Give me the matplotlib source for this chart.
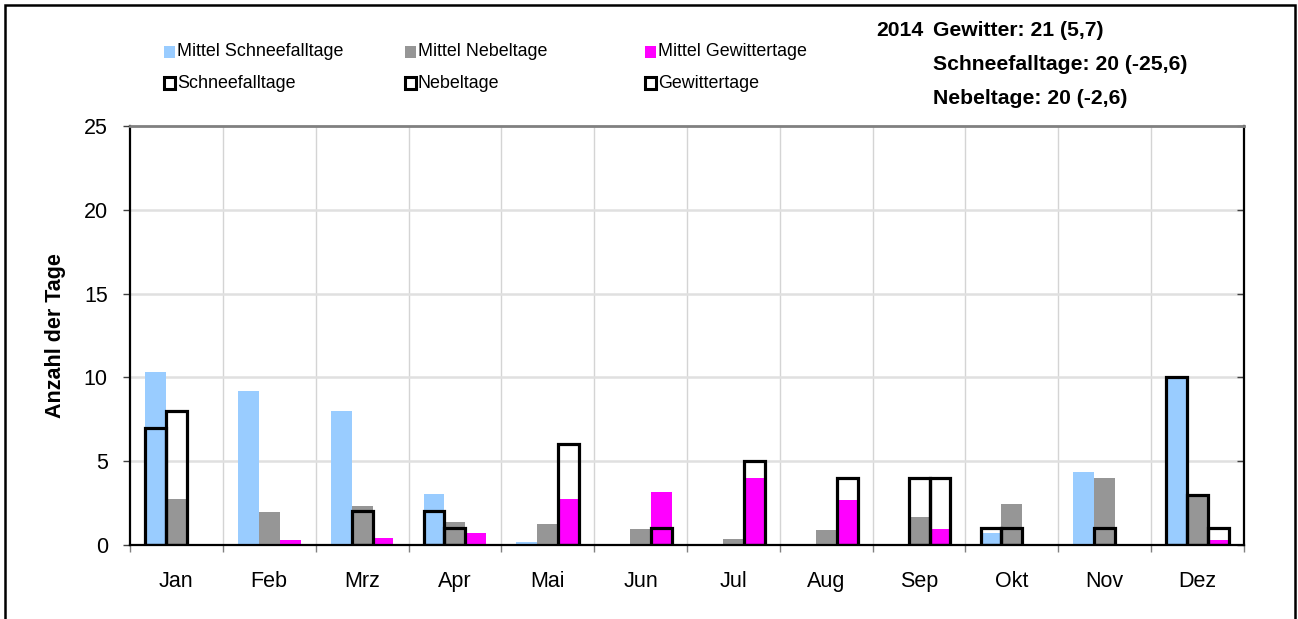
import numpy as np
import matplotlib
matplotlib.use("Agg")
import matplotlib.pyplot as plt
from matplotlib.patches import Rectangle

plt.rcParams['font.family'] = ['Liberation Sans', 'DejaVu Sans']

months = ['Jan', 'Feb', 'Mrz', 'Apr', 'Mai', 'Jun', 'Jul', 'Aug', 'Sep', 'Okt', 'Nov', 'Dez']

# long-term means
mittel_schnee = [10.3, 9.2, 8.0, 3.05, 0.15, 0, 0, 0, 0, 0.7, 4.35, 10.0]
mittel_nebel = [2.75, 1.95, 2.3, 1.35, 1.25, 0.95, 0.35, 0.9, 1.65, 2.45, 4.0, 3.0]
mittel_gewitter = [0, 0.3, 0.4, 0.7, 2.75, 3.15, 4.0, 2.7, 0.95, 0.05, 0, 0.3]

# 2014
schnee = [7, 0, 0, 2, 0, 0, 0, 0, 0, 1, 0, 10]
nebel = [8, 0, 2, 1, 0, 0, 0, 0, 4, 1, 1, 3]
gewitter = [0, 0, 0, 0, 6, 1, 5, 4, 4, 0, 0, 1]

summary = ['Gewitter: 21 (5,7)', 'Schneefalltage: 20 (-25,6)', 'Nebeltage: 20 (-2,6)']

c_blue = '#99ccff'
c_gray = '#969696'
c_mag = '#ff00ff'

W, H = 1298, 619
fig = plt.figure(figsize=(W / 100, H / 100), dpi=100)
ax = fig.add_axes([130 / W, 1 - 545 / H, 1114 / W, 419 / H])

def fx(x):
    return x / W

def fy(y):
    return 1 - y / H

x = np.arange(len(months))
w = 0.225

ax.bar(x - w, mittel_schnee, w, color=c_blue, zorder=2)
ax.bar(x, mittel_nebel, w, color=c_gray, zorder=2)
ax.bar(x + w, mittel_gewitter, w, color=c_mag, zorder=2)

for off, vals in [(-w, schnee), (0, nebel), (w, gewitter)]:
    vals = np.array(vals)
    m = vals > 0
    ax.bar(x[m] + off, vals[m], w, facecolor='none', edgecolor='black',
           linewidth=2.3, zorder=3)

ax.set_xlim(-0.5, 11.5)
ax.set_ylim(0, 25)
ax.set_yticks(np.arange(0, 26, 5))
ax.set_xticks(x)
ax.set_xticklabels(months, fontsize=15.5)
ax.set_xticks(np.arange(-0.5, 12, 1), minor=True)
ax.tick_params(axis='x', which='major', length=0, pad=19)
ax.tick_params(axis='x', which='minor', length=5, width=1, color='#808080')
ax.tick_params(axis='y', which='major', length=5, width=1, labelsize=15.5, pad=11,
               right=True, color='#404040', direction='out')
for t in ax.yaxis.get_major_ticks():
    t.tick2line.set_marker(matplotlib.lines.TICKLEFT)

for v in np.arange(0.5, 11, 1):
    ax.axvline(v, color='#d4d4d4', linewidth=1, zorder=0)
for v in [5, 10, 15, 20]:
    ax.axhline(v, color='#e0e0e0', linewidth=1.8, zorder=0)

ax.spines['top'].set_color('#808080')
ax.spines['top'].set_linewidth(2)
for s in ['left', 'right', 'bottom']:
    ax.spines[s].set_linewidth(1.6)
    ax.spines[s].set_color('black')

ax.set_ylabel('Anzahl der Tage', fontsize=15.5, fontweight='bold')
ax.yaxis.set_label_coords(-0.0575, 0.5)

# legend drawn by hand
leg = [
    (164, 52, c_blue, 'none', 'Mittel Schneefalltage'),
    (405, 52, c_gray, 'none', 'Mittel Nebeltage'),
    (645, 52, c_mag, 'none', 'Mittel Gewittertage'),
    (164, 83, 'white', 'black', 'Schneefalltage'),
    (405, 83, 'white', 'black', 'Nebeltage'),
    (645, 83, 'white', 'black', 'Gewittertage'),
]
for lx, ly, fc, ec, lab in leg:
    s = 11
    fig.patches.append(Rectangle((fx(lx), fy(ly + s / 2)), s / W, s / H,
                                 facecolor=fc, edgecolor=ec,
                                 linewidth=2.2 if ec != 'none' else 0,
                                 transform=fig.transFigure))
    fig.text(fx(lx + 13), fy(ly), lab, fontsize=12.9, va='center', ha='left')

fig.text(fx(876), fy(31), '2014', fontsize=15.2, fontweight='bold', va='center')
for i, line in enumerate(summary):
    fig.text(fx(933), fy(31 + 33.5 * i), line, fontsize=15.2, fontweight='bold', va='center')

# outer frame
fig.patches.append(Rectangle((fx(5), fy(640)), (1295 - 5) / W, 635 / H,
                             facecolor='none', edgecolor='black', linewidth=1.8,
                             transform=fig.transFigure))

fig.savefig('out.png', dpi=100)
